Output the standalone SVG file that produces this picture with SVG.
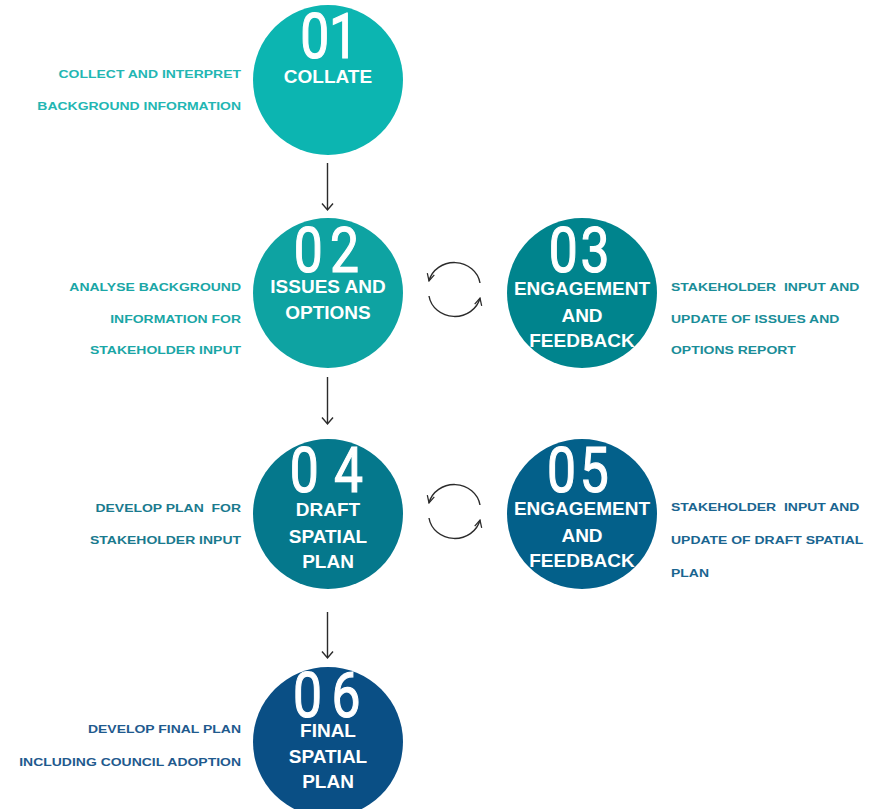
<svg xmlns="http://www.w3.org/2000/svg" width="876" height="809" viewBox="0 0 876 809">
  <style>
    .num { font-family: Roboto, "Liberation Sans", sans-serif; font-size: 63px; font-weight: 400; fill: #ffffff; stroke: #ffffff; stroke-width: 1.2px; text-anchor: middle; }
    .title { font-family: "Liberation Sans", Arial, sans-serif; font-size: 19px; font-weight: bold; fill: #ffffff; text-anchor: middle; }
    .note { font-family: "Liberation Sans", Arial, sans-serif; font-size: 11px; font-weight: bold; white-space: pre; }
    .left { text-anchor: end; }
    .right { text-anchor: start; }
    .conn { fill: none; stroke: #2b2b2b; stroke-width: 1.4; }
  </style>
  <defs>
    <marker id="head" viewBox="0 0 10 10" refX="9" refY="5" markerWidth="9" markerHeight="9" markerUnits="userSpaceOnUse" orient="auto">
      <path d="M1,1 L9,5 L1,9" fill="none" stroke="#2b2b2b" stroke-width="1.4"/>
    </marker>
  </defs>
  <rect width="876" height="809" fill="#ffffff"/>

  <!-- connectors -->
  <g id="connectors" class="conn">
    <path d="M327.5,163 V210 M322,203.5 L327.5,210 L333,203.5"/>
    <path d="M327.5,377 V424 M322,417.5 L327.5,424 L333,417.5"/>
    <path d="M327.5,612 V658 M322,651.5 L327.5,658 L333,651.5"/>
    <!-- exchange loop 02 <-> 03 -->
    <path d="M480,283 A26,24 0 0 0 429,281" marker-end="url(#head)"/>
    <path d="M429,296 A26,24 0 0 0 480,298" marker-end="url(#head)"/>
    <!-- exchange loop 04 <-> 05 -->
    <path d="M480,505 A26,24 0 0 0 429,503" marker-end="url(#head)"/>
    <path d="M429,518 A26,24 0 0 0 480,520" marker-end="url(#head)"/>
  </g>

  <!-- step 01 -->
  <g id="step01">
    <circle cx="328" cy="80" r="75" fill="#0cb5b1"/>
    <text class="num" transform="translate(328 58) scale(0.82 1)" x="-16 19" y="0">01</text>
    <text class="title" x="328" y="83">COLLATE</text>
    <g fill="#22b6b3" transform="translate(241 0) scale(1.27 1)">
      <text class="note left" x="0" y="78">COLLECT AND INTERPRET</text>
      <text class="note left" x="0" y="110">BACKGROUND INFORMATION</text>
    </g>
  </g>

  <!-- step 02 -->
  <g id="step02">
    <circle cx="328" cy="293" r="75" fill="#0ea3a2"/>
    <text class="num" transform="translate(328 272) scale(0.82 1)" x="-24 20" y="0">02</text>
    <text class="title" x="328" y="293">ISSUES AND</text>
    <text class="title" x="328" y="319">OPTIONS</text>
    <g fill="#1aa6a6" transform="translate(241 0) scale(1.27 1)">
      <text class="note left" x="0" y="291">ANALYSE BACKGROUND</text>
      <text class="note left" x="0" y="323">INFORMATION FOR</text>
      <text class="note left" x="0" y="354">STAKEHOLDER INPUT</text>
    </g>
  </g>

  <!-- step 03 -->
  <g id="step03">
    <circle cx="582" cy="293" r="75" fill="#00848d"/>
    <text class="num" transform="translate(582 272) scale(0.82 1)" x="-23 16" y="0">03</text>
    <text class="title" x="582" y="295">ENGAGEMENT</text>
    <text class="title" x="582" y="322">AND</text>
    <text class="title" x="582" y="347">FEEDBACK</text>
    <g fill="#1a8d98" transform="translate(671 0) scale(1.27 1)">
      <text class="note right" x="0" y="291">STAKEHOLDER  INPUT AND</text>
      <text class="note right" x="0" y="323">UPDATE OF ISSUES AND</text>
      <text class="note right" x="0" y="354">OPTIONS REPORT</text>
    </g>
  </g>

  <!-- step 04 -->
  <g id="step04">
    <circle cx="328" cy="514" r="75" fill="#05788c"/>
    <text class="num" transform="translate(328 492) scale(0.82 1)" x="-29 25" y="0">04</text>
    <text class="title" x="328" y="516">DRAFT</text>
    <text class="title" x="328" y="543">SPATIAL</text>
    <text class="title" x="328" y="568">PLAN</text>
    <g fill="#1a7a8e" transform="translate(241 0) scale(1.27 1)">
      <text class="note left" x="0" y="512">DEVELOP PLAN  FOR</text>
      <text class="note left" x="0" y="544">STAKEHOLDER INPUT</text>
    </g>
  </g>

  <!-- step 05 -->
  <g id="step05">
    <circle cx="582" cy="514" r="75" fill="#03608a"/>
    <text class="num" transform="translate(582 492) scale(0.82 1)" x="-25 15" y="0">05</text>
    <text class="title" x="582" y="515">ENGAGEMENT</text>
    <text class="title" x="582" y="542">AND</text>
    <text class="title" x="582" y="567">FEEDBACK</text>
    <g fill="#1a6590" transform="translate(671 0) scale(1.27 1)">
      <text class="note right" x="0" y="511">STAKEHOLDER  INPUT AND</text>
      <text class="note right" x="0" y="544">UPDATE OF DRAFT SPATIAL</text>
      <text class="note right" x="0" y="577">PLAN</text>
    </g>
  </g>

  <!-- step 06 -->
  <g id="step06">
    <circle cx="328" cy="742" r="75" fill="#0a4f85"/>
    <text class="num" transform="translate(328 717) scale(0.82 1)" x="-25 22" y="0">06</text>
    <text class="title" x="328" y="737">FINAL</text>
    <text class="title" x="328" y="763">SPATIAL</text>
    <text class="title" x="328" y="788">PLAN</text>
    <g fill="#1f5a8e" transform="translate(241 0) scale(1.27 1)">
      <text class="note left" x="0" y="733">DEVELOP FINAL PLAN</text>
      <text class="note left" x="0" y="766">INCLUDING COUNCIL ADOPTION</text>
    </g>
  </g>
</svg>
